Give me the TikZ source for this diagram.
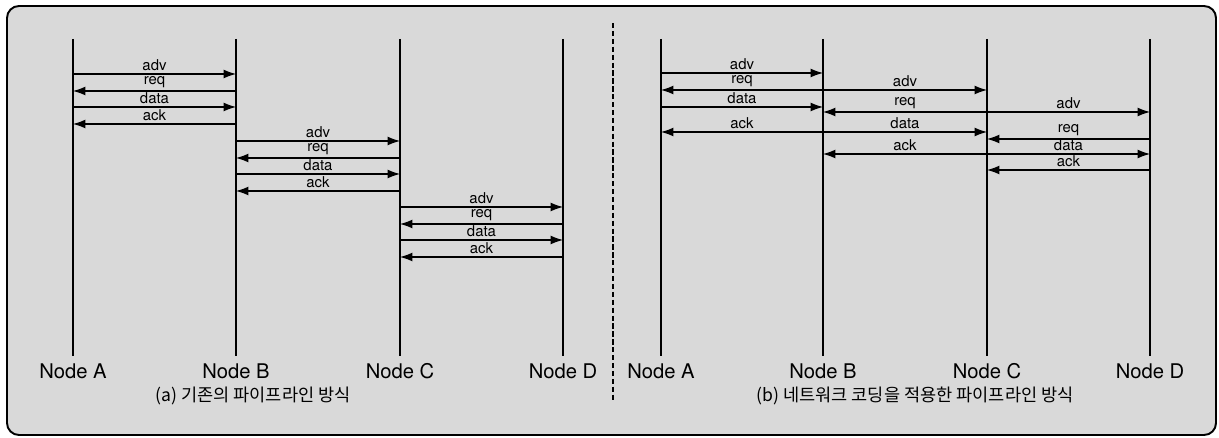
\documentclass[tikz,border=0pt]{standalone}
\usepackage{fontspec}
\setmainfont{TeX Gyre Heros}
\newfontfamily\krfont{Noto Sans CJK KR}
\usetikzlibrary{arrows.meta}
\definecolor{paper}{gray}{0.85}

\begin{document}
\begin{tikzpicture}[x=.02cm,y=-.02cm,font=\fontsize{8.5}{10}\selectfont,
 life/.style={line width=1.4pt},
 msg/.style={line width=.6pt,-{Latex[length=7pt,width=5pt]}},
 lbl/.style={anchor=south,inner sep=1.5pt},
 nodelbl/.style={font=\fontsize{11.5}{13}\selectfont},
 capt/.style={font=\krfont\fontsize{10}{12}\selectfont}]
\useasboundingbox (0,0) rectangle (1219,438);
\draw[line width=1.1pt,fill=paper,rounded corners=.24cm] (7,6) rectangle (1216,435);
\draw[line width=1.3pt,dash pattern=on 3pt off 1.5pt] (613,23)--(613,400);
\foreach \n/\x/\t in {A/73/A,B/236/B,C/400/C,D/563/D,Ar/661/A,Br/823/B,Cr/987/C,Dr/1150/D}{
\coordinate (\n) at (\x,39);\coordinate (\n b) at (\x,356);
\draw[life] (\n)--(\n b);
\node[nodelbl] (l\n) at (\x,371){Node \t};}
\foreach \f/\t/\dy in {A/B/0,B/C/67,C/D/133}{
\foreach \s/\e/\y/\m in {\f/\t/74/adv,\t/\f/91/req,\f/\t/107/data,\t/\f/124/ack}
\draw[msg] (\s|-0,\y+\dy)--node[lbl]{\m}(\e|-0,\y+\dy);}
\foreach \s/\e/\y/\m in {Ar/Br/73/adv,Br/Ar/90/req,Br/Cr/90/adv,Ar/Br/107/data,
 Cr/Br/112/req,Cr/Dr/112/adv,Br/Ar/132/ack,Br/Cr/132/data,Dr/Cr/139/req,
 Cr/Br/154/ack,Cr/Dr/154/data,Dr/Cr/170/ack}
\draw[msg] (\s|-0,\y)--node[lbl]{\m}(\e|-0,\y);
\node[capt] (capa) at (253,396){(a) 기존의 파이프라인 방식};
\node[capt] (capb) at (915,396){(b) 네트워크 코딩을 적용한 파이프라인 방식};
\end{tikzpicture}
\end{document}
